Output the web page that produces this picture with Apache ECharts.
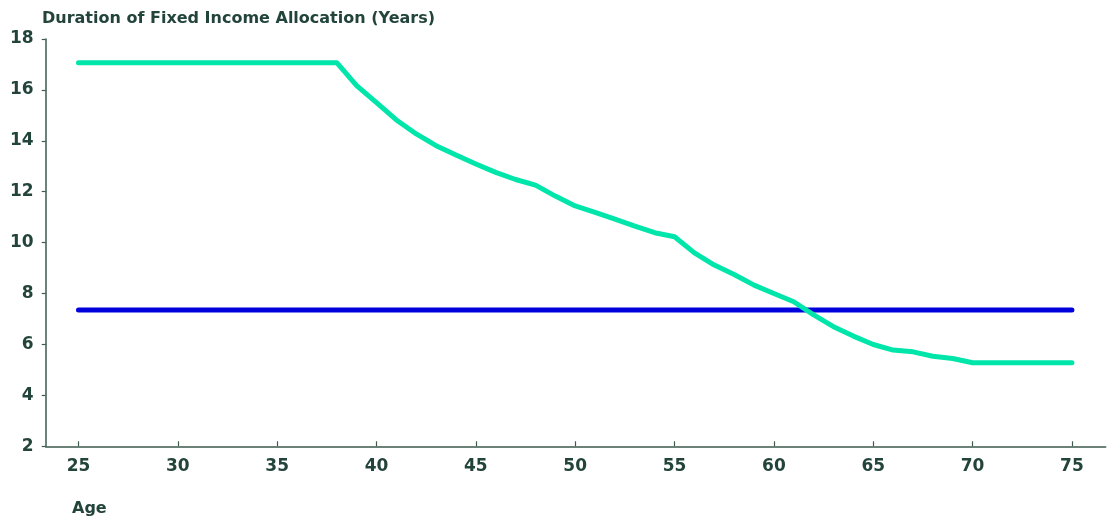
<!DOCTYPE html>
<html>
<head>
<meta charset="utf-8">
<script src="https://cdn.jsdelivr.net/npm/echarts@6/dist/echarts.min.js"></script>
<style>
html,body{margin:0;padding:0;background:#fff;}
#chart{width:1113px;height:520px;}
</style>
</head>
<body>
<div id="chart"></div>
<script>
const ages = [25,26,27,28,29,30,31,32,33,34,35,36,37,38,39,40,41,42,43,44,45,46,47,48,49,50,51,52,53,54,55,56,57,58,59,60,61,62,63,64,65,66,67,68,69,70,71,72,73,74,75];
const glidePath = [17.07,17.07,17.07,17.07,17.07,17.07,17.07,17.07,17.07,17.07,17.07,17.07,17.07,17.07,16.17,15.5,14.82,14.27,13.81,13.44,13.09,12.76,12.48,12.26,11.83,11.44,11.19,10.92,10.65,10.39,10.23,9.6,9.12,8.75,8.33,8.0,7.68,7.16,6.7,6.33,6.0,5.78,5.71,5.54,5.45,5.28,5.28,5.28,5.28,5.28,5.28];
const benchmark = [7.35,7.35,7.35,7.35,7.35,7.35,7.35,7.35,7.35,7.35,7.35,7.35,7.35,7.35,7.35,7.35,7.35,7.35,7.35,7.35,7.35,7.35,7.35,7.35,7.35,7.35,7.35,7.35,7.35,7.35,7.35,7.35,7.35,7.35,7.35,7.35,7.35,7.35,7.35,7.35,7.35,7.35,7.35,7.35,7.35,7.35,7.35,7.35,7.35,7.35,7.35];
const xTicks = [25,30,35,40,45,50,55,60,65,70,75];
const yTitle = 'Duration of Fixed Income Allocation (Years)';
const xTitle = 'Age';

const textColor = '#23443a';
const axisColor = '#3d5a4d';
const font = '"DejaVu Sans", sans-serif';

const chart = echarts.init(document.getElementById('chart'));
chart.setOption({
  animation: false,
  backgroundColor: '#fff',
  title: [
    {text: yTitle, left: 37, top: 6, textStyle: {fontFamily: font, fontSize: 16, fontWeight: 700, color: textColor}},
    {text: xTitle, left: 67, top: 496, textStyle: {fontFamily: font, fontSize: 16, fontWeight: 700, color: textColor}}
  ],
  grid: {left: 45.7, right: 1113 - 1105.7, top: 39, bottom: 520 - 446.3, containLabel: false},
  xAxis: {
    type: 'value', min: 23.35, max: 76.7,
    axisLine: {show: true, lineStyle: {color: axisColor, width: 1.5}},
    axisTick: {show: true, customValues: xTicks, length: 5, inside: true, lineStyle: {color: axisColor, width: 1.2}},
    axisLabel: {show: true, customValues: xTicks, margin: 12, fontFamily: font, fontSize: 17, fontWeight: 700, color: textColor},
    splitLine: {show: false}
  },
  yAxis: {
    type: 'value', min: 2, max: 18, interval: 2,
    axisLine: {show: true, lineStyle: {color: axisColor, width: 1.5}},
    axisTick: {show: true, length: 4, lineStyle: {color: axisColor, width: 1.2}},
    axisLabel: {margin: 12, fontFamily: font, fontSize: 17, fontWeight: 700, color: textColor},
    splitLine: {show: false}
  },
  series: [
    {type: 'line', data: ages.map((a, i) => [a, benchmark[i]]), showSymbol: false, lineStyle: {color: '#0000dc', width: 5, cap: 'round'}, z: 2},
    {type: 'line', data: ages.map((a, i) => [a, glidePath[i]]), showSymbol: false, lineStyle: {color: '#00e6aa', width: 5, cap: 'round', join: 'round'}, z: 3}
  ]
});
</script>
</body>
</html>
